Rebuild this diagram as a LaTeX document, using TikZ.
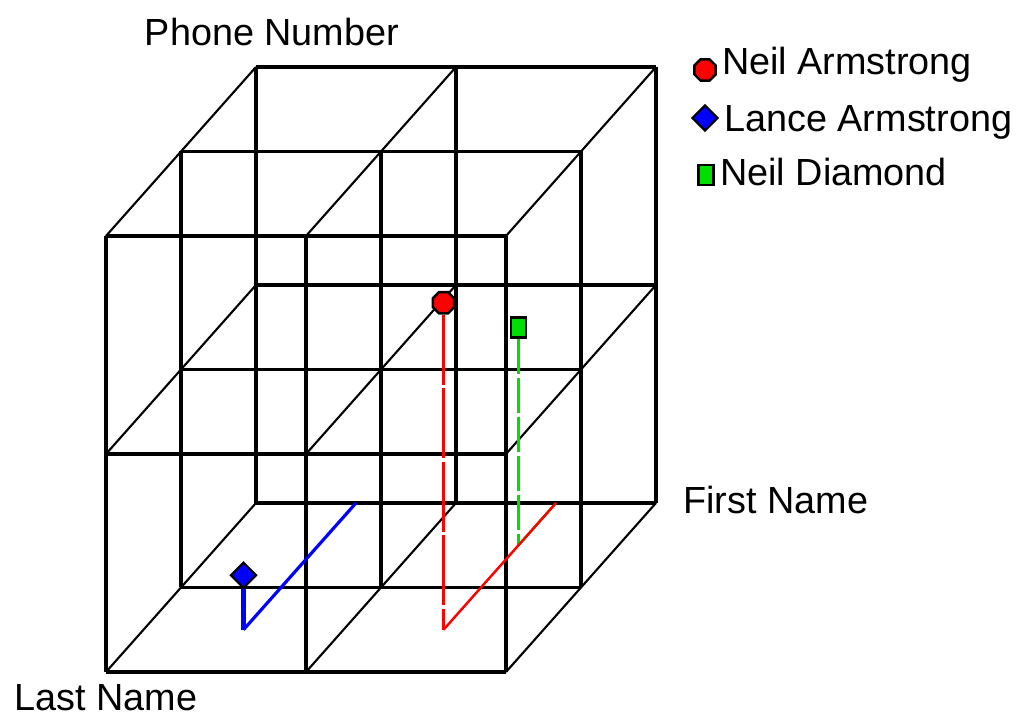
\documentclass[tikz,border=0pt]{standalone}
\usepackage{fontspec}
\setmainfont{Liberation Sans}
\usetikzlibrary{positioning,shapes.geometric}
\definecolor{ptRed}{HTML}{FF0000}
\definecolor{ptBlue}{HTML}{0000FF}
\definecolor{ptGreen}{HTML}{00E000}

\begin{document}
\begin{tikzpicture}[
  x={(4cm,0cm)}, y={(0cm,4.36cm)}, z={(-1.5cm,-1.69cm)},
  font=\fontsize{21.5}{26}\selectfont,
  cubeline/.style={line width=1.8pt, black},
  depthline/.style={line width=1.2pt, black},
  axislbl/.style={inner sep=0pt},
  keytext/.style={inner sep=0pt},
  redmark/.style={regular polygon, regular polygon sides=8, draw=black, fill=ptRed, line width=1.4pt, minimum size=0.46cm, inner sep=0pt},
  bluemark/.style={diamond, draw=black, fill=ptBlue, line width=1.2pt, minimum size=0.52cm, inner sep=0pt},
  greenmark/.style={rectangle, draw=black, fill=ptGreen, line width=1.6pt, minimum width=0.3cm, minimum height=0.4cm, inner sep=0pt},
  redvert/.style={ptRed, line width=1.2pt, dash pattern=on 1.4cm off 0.07cm},
  reddiag/.style={ptRed, line width=1.4pt},
  greenvert/.style={ptGreen, line width=1.8pt, dash pattern=on 0.7cm off 0.08cm},
  greendiag/.style={ptGreen, line width=1.4pt},
  bluevert/.style={ptBlue, line width=2.8pt},
  bluediag/.style={ptBlue, line width=1.8pt}
]
  \useasboundingbox (-5.12cm,-4.44cm) rectangle (15.22cm,10.06cm);

  % cube lattice
  \foreach \a in {0,1,2}
    \foreach \b in {0,1,2} {
      \draw[depthline] (\a,\b,0) -- (\a,\b,2);
      \draw[cubeline] (\a,0,\b) -- (\a,2,\b);
      \draw[cubeline] (0,\a,\b) -- (2,\a,\b);
    }

  % axis corners and labels
  \coordinate (phoneEnd) at (0,2,0);
  \coordinate (firstEnd) at (2,0,0);
  \coordinate (lastEnd) at (0,0,2);
  \node[axislbl, above=0.42cm of phoneEnd, xshift=0.32cm] (phoneLbl) {Phone Number};
  \node[axislbl, right=0.54cm of firstEnd, yshift=0.06cm] (firstLbl) {First Name};
  \node[axislbl, below=0.24cm of lastEnd] (lastLbl) {Last Name};

  % projections of the records
  \coordinate (neilWall) at (1.5,0,0);
  \coordinate (lanceWall) at (0.5,0,0);
  \coordinate (neilAfloor) at (1.5,0,1.5);
  \coordinate (neilDfloor) at (1.5,0,0.5);
  \coordinate (lanceFloor) at (0.5,0,1.5);

  \node[redmark] (neilA) at (1.5,1.5,1.5) {};
  \node[greenmark] (neilD) at (1.5,1,0.5) {};
  \node[bluemark] (lance) at (0.5,0.25,1.5) {};

  \draw[greendiag] (neilDfloor) -- (neilWall);
  \draw[greenvert] (neilD) -- (neilDfloor);
  \draw[reddiag] (neilAfloor) -- (neilWall);
  \draw[redvert] (neilA) -- (neilAfloor);
  \draw[bluevert] (lance) -- (lanceFloor);
  \draw[bluediag] (lanceFloor) -- (lanceWall);

  % legend
  \node[redmark] (neilAkey) at (8.98cm,8.66cm) {};
  \node[bluemark] (lanceKey) at (8.98cm,7.70cm) {};
  \node[greenmark] (neilDkey) at (9.0cm,6.56cm) {};
  \node[keytext, right=0.1cm of neilAkey, yshift=0.1cm] (neilAtxt) {Neil Armstrong};
  \node[keytext, right=0.1cm of lanceKey, yshift=-0.08cm] (lanceTxt) {Lance Armstrong};
  \node[keytext, right=0.1cm of neilDkey, yshift=0.06cm] (neilDtxt) {Neil Diamond};
\end{tikzpicture}
\end{document}
